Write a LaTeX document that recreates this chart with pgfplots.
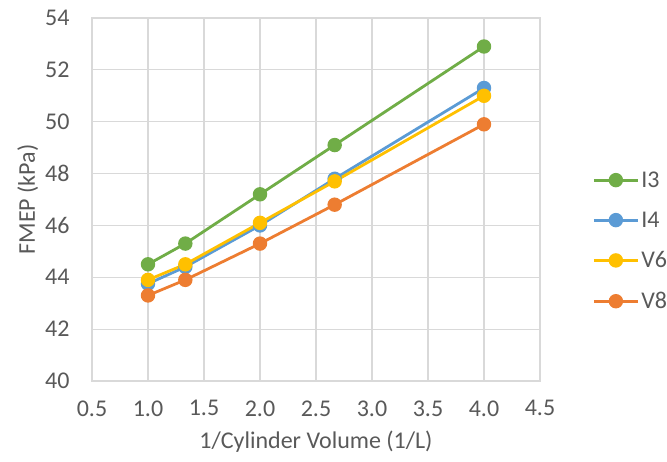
\documentclass[border=0pt]{standalone}
\usepackage{pgfplots}
\pgfplotsset{compat=1.18}
\usepackage{fontspec}
\setmainfont{Carlito}
\definecolor{cI3}{HTML}{70AD47}
\definecolor{cI4}{HTML}{5B9BD5}
\definecolor{cV6}{HTML}{FFC000}
\definecolor{cV8}{HTML}{ED7D31}
\definecolor{txt}{HTML}{595959}
\definecolor{grd}{HTML}{D9D9D9}
\begin{document}
\begin{tikzpicture}
\path[use as bounding box] (-92pt,-80pt) rectangle (575pt,381pt);
\begin{axis}[
  at={(0pt,0pt)}, anchor=south west,
  scale only axis, width=448pt, height=363pt,
  xmin=0.5, xmax=4.5, ymin=40, ymax=54,
  xtick={0.5,1,...,4.5}, ytick={40,42,...,54},
  xticklabel style={/pgf/number format/fixed, /pgf/number format/fixed zerofill, /pgf/number format/precision=1, yshift=-16pt},
  /pgf/number format/assume math mode=true,
  tick label style={font=\fontsize{24}{28}\selectfont, text=txt},
  yticklabel style={xshift=-19pt},
  major tick length=0pt,
  grid=major, grid style={grd, line width=1.2pt},
  axis line style={grd, line width=1.2pt},
  xlabel={1/Cylinder Volume (1/L)}, ylabel={FMEP (kPa)},
  label style={font=\fontsize{24}{28}\selectfont, text=txt},
  xlabel style={yshift=-8pt},
  ylabel style={yshift=0pt},
  every axis plot/.append style={line width=2.8pt, mark=*, mark size=5.8pt,
    mark options={solid, line width=0.4pt}},
  legend style={at={(1.11,0.386)}, anchor=west, draw=none, fill=none,
    font=\fontsize{24}{28}\selectfont, text=txt, row sep=19pt,
    /tikz/every even column/.append style={column sep=0pt}},
  legend cell align=left,
  legend image code/.code={\draw[mark repeat=2,mark phase=2] plot coordinates {(0pt,0pt)(22pt,0pt)(44pt,0pt)};},
]
\addplot[cI3, mark options={fill=cI3}] coordinates {(1.0,44.5) (1.3333,45.3) (2.0,47.2) (2.6667,49.1) (4.0,52.9)};
\addplot[cI4, mark options={fill=cI4}] coordinates {(1.0,43.75) (1.3333,44.4) (2.0,46.0) (2.6667,47.8) (4.0,51.3)};
\addplot[cV6, mark options={fill=cV6}] coordinates {(1.0,43.9) (1.3333,44.5) (2.0,46.1) (2.6667,47.7) (4.0,51.0)};
\addplot[cV8, mark options={fill=cV8}] coordinates {(1.0,43.3) (1.3333,43.9) (2.0,45.3) (2.6667,46.8) (4.0,49.9)};
\legend{I3, I4, V6, V8}
\end{axis}
\end{tikzpicture}
\end{document}
